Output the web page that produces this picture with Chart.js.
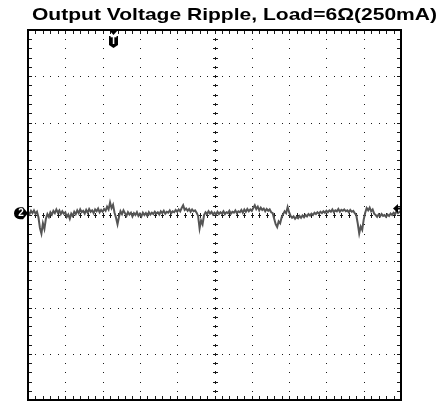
<!DOCTYPE html>
<html><head><meta charset="utf-8">
<script src="https://cdn.jsdelivr.net/npm/chart.js@4.4.0/dist/chart.umd.min.js"></script>
<style>html,body{margin:0;padding:0;background:#fff;}#wrap{width:440px;height:402px;}</style>
</head><body><div id="wrap"><canvas id="c" width="440" height="402"></canvas></div>
<script>
const TITLE = "Output Voltage Ripple, Load=6Ω(250mA)";
const X_DIVS = 10;
const Y_DIVS = 8;
const SAMPLE_STEP = 0.04; // divisions per sample
// ripple trace in vertical divisions, one array per horizontal division
const div0 = [0.06,0.02,0.09,0.04,0.10,0.03,0.07,-0.05,-0.28,-0.40,-0.18,-0.30,-0.08,0.02,-0.04,0.06,0.01,0.09,0.04,0.12,0.05,0.10,0.02,0.08,0.03];
const div1 = [0.06,-0.04,0.01,-0.08,0.03,-0.02,0.07,0.02,0.10,0.04,0.12,0.06,0.09,0.03,0.11,0.05,0.13,0.07,0.10,0.04,0.12,0.08,0.14,0.06,0.11];
const div2 = [0.07,0.13,0.09,0.18,0.12,0.27,0.15,0.22,0.05,-0.06,-0.20,-0.04,0.08,0.02,0.10,0.04,-0.02,0.06,0.01,0.05,-0.03,0.04,0.00,0.06,-0.02];
const div3 = [0.03,-0.03,0.05,0.00,0.04,-0.02,0.06,0.01,0.05,0.02,0.07,0.03,0.06,0.01,0.08,0.04,0.09,0.03,0.07,0.05,0.10,0.04,0.08,0.06,0.11];
const div4 = [0.07,0.12,0.08,0.15,0.21,0.11,0.14,0.09,0.13,0.07,0.12,0.08,0.10,0.05,-0.02,-0.29,-0.12,-0.20,0.00,0.06,0.02,0.08,0.03,0.07,0.01];
const div5 = [0.05,0.01,0.07,0.02,0.06,0.03,0.08,0.02,0.06,0.04,0.09,0.03,0.07,0.05,0.10,0.04,0.08,0.06,0.11,0.05,0.12,0.07,0.13,0.08,0.12];
const div6 = [0.09,0.15,0.21,0.13,0.18,0.10,0.16,0.11,0.14,0.08,0.13,0.09,0.12,0.06,0.04,-0.08,-0.20,-0.26,-0.14,-0.18,-0.05,0.02,0.08,0.04,0.17];
const div7 = [0.06,-0.02,-0.06,-0.03,-0.08,-0.04,-0.07,-0.02,-0.06,-0.01,-0.05,0.00,-0.03,0.02,-0.01,0.03,0.00,0.05,0.02,0.06,0.03,0.07,0.04,0.08,0.05];
const div8 = [0.09,0.06,0.10,0.07,0.12,0.06,0.10,0.08,0.13,0.07,0.11,0.09,0.12,0.08,0.10,0.06,0.11,0.07,0.09,0.04,0.00,-0.18,-0.40,-0.25,-0.32];
const div9 = [-0.10,0.05,0.15,0.10,0.16,0.08,0.12,0.03,0.00,-0.04,0.01,-0.03,0.02,-0.02,0.00,-0.04,0.01,-0.02,0.03,0.00,0.05,0.02,0.08,0.04,0.07];
const endPoint = [0.05];
const ripple = [].concat(div0,div1,div2,div3,div4,div5,div6,div7,div8,div9,endPoint);
const TRIG_POS = 2.28;     // trigger position (divisions)
const CH2_REF = 0.04;      // channel 2 ground marker (divisions)
const TRIG_LEVEL = 0.14;   // trigger level marker (divisions)

const graticule = {
  id:'graticule',
  beforeDatasetsDraw(chart){
    const {ctx, chartArea:a, scales:{x,y}} = chart;
    ctx.save();
    ctx.fillStyle = '#1a1a1a';
    const R = Math.round;
    for (let k=1;k<X_DIVS;k++){
      if (k===X_DIVS/2) continue;
      const px = R(x.getPixelForValue(k));
      for (let j=1;j<Y_DIVS*5;j++){
        const py = R(y.getPixelForValue(-Y_DIVS/2 + j*0.2));
        ctx.fillRect(px,py,1,1);
      }
    }
    for (let k=-Y_DIVS/2+1;k<Y_DIVS/2;k++){
      if (k===0) continue;
      const py = R(y.getPixelForValue(k));
      for (let j=1;j<X_DIVS*5;j++){
        const px = R(x.getPixelForValue(j*0.2));
        ctx.fillRect(px,py,1,1);
      }
    }
    const cx = R(x.getPixelForValue(X_DIVS/2));
    const cy = R(y.getPixelForValue(0));
    for (let j=1;j<Y_DIVS*5;j++){
      const py = R(y.getPixelForValue(-Y_DIVS/2 + j*0.2));
      ctx.fillRect(cx-2,py,5,1);
      ctx.fillRect(cx,py-1,1,3);
    }
    for (let j=1;j<X_DIVS*5;j++){
      const px = R(x.getPixelForValue(j*0.2));
      ctx.fillRect(px,cy-2,1,5);
      ctx.fillRect(px-1,cy,3,1);
    }
    for (let j=1;j<X_DIVS*5;j++){
      const px = R(x.getPixelForValue(j*0.2));
      ctx.fillRect(px,R(a.top),1,4);
      ctx.fillRect(px,R(a.bottom)-4,1,4);
    }
    for (let j=1;j<Y_DIVS*5;j++){
      const py = R(y.getPixelForValue(-Y_DIVS/2 + j*0.2));
      ctx.fillRect(R(a.left),py,4,1);
      ctx.fillRect(R(a.right)-4,py,4,1);
    }
    ctx.restore();
  },
  afterDraw(chart){
    const {ctx, chartArea:a, scales:{x,y}} = chart;
    ctx.save();
    ctx.strokeStyle = '#000';
    ctx.lineWidth = 2;
    ctx.strokeRect(a.left, a.top, a.right-a.left, a.bottom-a.top);
    // title
    ctx.fillStyle = '#000';
    ctx.font = 'bold 17px "Liberation Sans", Arial, sans-serif';
    ctx.textBaseline = 'alphabetic';
    const w = ctx.measureText(TITLE).width;
    const target = 405;
    ctx.save();
    ctx.translate(32, 20);
    ctx.scale(target/w, 1);
    ctx.fillText(TITLE, 0, 0);
    ctx.restore();
    // trigger position marker
    const tx = Math.round(x.getPixelForValue(TRIG_POS))+0.5;
    ctx.fillStyle = '#000';
    ctx.beginPath();
    ctx.moveTo(tx-4.5, a.top); ctx.lineTo(tx+4.5, a.top); ctx.lineTo(tx, a.top+5); ctx.closePath(); ctx.fill();
    ctx.beginPath();
    ctx.moveTo(tx-4.5, a.top+6); ctx.lineTo(tx+4.5, a.top+6); ctx.lineTo(tx+4.5, a.top+15);
    ctx.lineTo(tx, a.top+18); ctx.lineTo(tx-4.5, a.top+15); ctx.closePath(); ctx.fill();
    ctx.fillStyle = '#fff';
    ctx.font = 'bold 10px "Liberation Sans", Arial, sans-serif';
    ctx.textAlign = 'center'; ctx.textBaseline = 'middle';
    ctx.fillText('T', tx, a.top+11.5);
    // channel 2 marker
    const cy2 = y.getPixelForValue(CH2_REF);
    ctx.fillStyle = '#000';
    ctx.beginPath();
    ctx.moveTo(20, cy2-6); ctx.lineTo(23, cy2-6); ctx.lineTo(28, cy2);
    ctx.lineTo(23, cy2+6); ctx.lineTo(20, cy2+6);
    ctx.arc(20, cy2, 6, Math.PI/2, Math.PI*1.5);
    ctx.closePath(); ctx.fill();
    ctx.fillStyle = '#fff';
    ctx.font = 'bold 10px "Liberation Sans", Arial, sans-serif';
    ctx.fillText('2', 21, cy2+0.5);
    // trigger level marker
    const ty = y.getPixelForValue(TRIG_LEVEL);
    ctx.fillStyle = '#000';
    ctx.beginPath();
    ctx.moveTo(393, ty); ctx.lineTo(398, ty-4.5); ctx.lineTo(398, ty+4.5); ctx.closePath(); ctx.fill();
    ctx.fillRect(397, ty-1, 3, 2);
    ctx.restore();
  }
};

new Chart(document.getElementById('c'), {
  type:'line',
  data:{datasets:[{
    data: ripple.map((v,i)=>({x:i*SAMPLE_STEP, y:v})),
    borderColor:'#555555', borderWidth:2, pointRadius:0, tension:0, fill:false
  }]},
  options:{
    responsive:false, animation:false, events:[],
    layout:{padding:{left:28,top:30,right:39,bottom:2}},
    scales:{
      x:{type:'linear', min:0, max:X_DIVS, display:false},
      y:{type:'linear', min:-Y_DIVS/2, max:Y_DIVS/2, display:false}
    },
    plugins:{legend:{display:false}, tooltip:{enabled:false}, title:{display:false}}
  },
  plugins:[graticule]
});
</script></body></html>
